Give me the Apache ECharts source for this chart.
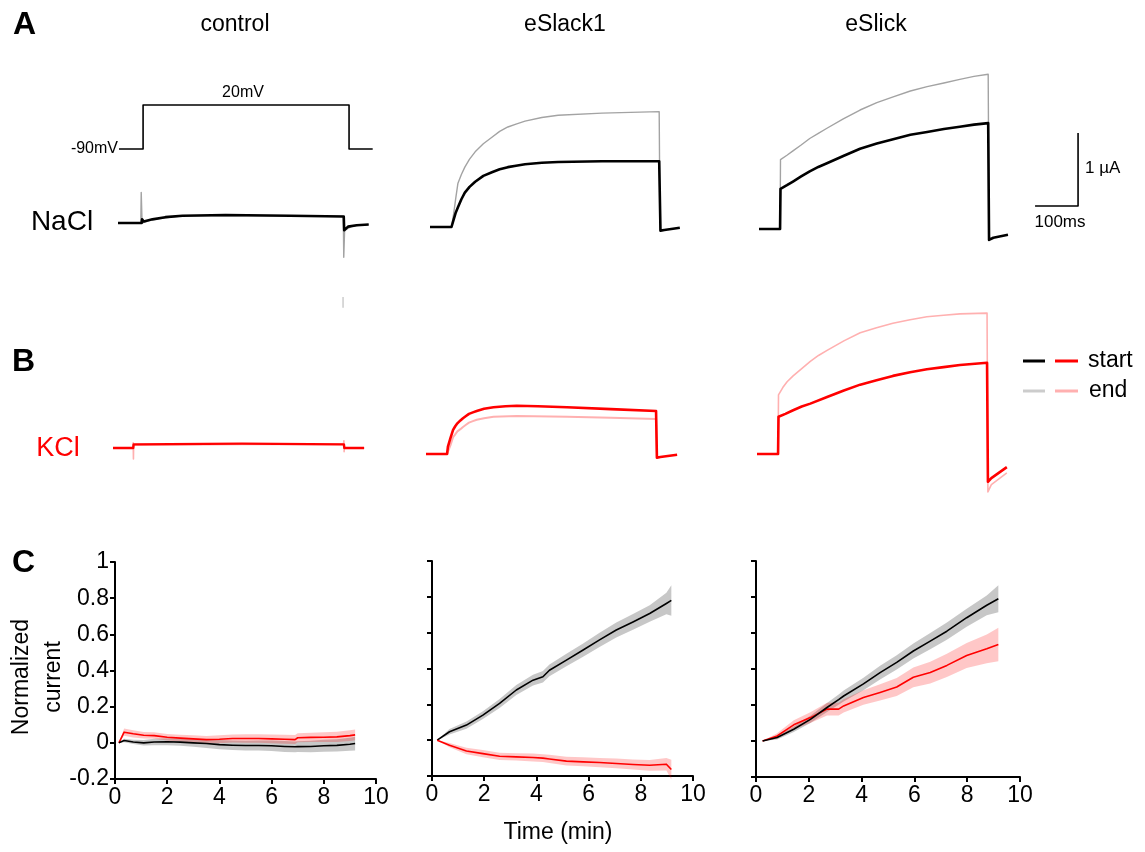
<!DOCTYPE html>
<html>
<head>
<meta charset="utf-8">
<script src="https://cdn.jsdelivr.net/npm/echarts@6/dist/echarts.min.js"></script>
<style>
html,body{margin:0;padding:0;background:#fff}
#main{width:1145px;height:852px}
</style>
</head>
<body>
<div id="main"></div>
<script>
// ---- A: voltage protocol (ms, mV)
var vProtocol = [[0,-90],[56,-90],[56,20],[535,20],[535,-90],[590,-90]];

// ---- A: NaCl currents (ms, uA), start = dark, end = light
var naCtrlStart = [[0,0],[55,0],[56,0.05],[60,0.02],[80,0.05],[110,0.08],[150,0.1],[250,0.11],[400,0.1],[525,0.09],[526,-0.1],[535,-0.05],[555,-0.03],[583,-0.02]];
var naCtrlEnd = [[0,0],[53,0],[54,0.42],[56,0],[80,0.05],[150,0.1],[400,0.1],[524,0.09],[525,-0.47],[527,-0.1],[545,-0.04],[583,-0.02]];
var naSlackStart = [[0,0],[50,0],[55,0.1],[60,0.2],[65,0.27],[73,0.38],[81,0.47],[92,0.55],[105,0.62],[124,0.7],[144,0.75],[162,0.79],[181,0.82],[200,0.84],[221,0.86],[260,0.88],[298,0.89],[400,0.9],[533,0.9],[536,-0.05],[545,-0.04],[581,-0.01]];
var naSlackEnd = [[50,0],[55,0.18],[60,0.4],[65,0.6],[73,0.72],[81,0.82],[92,0.93],[105,1.03],[124,1.14],[144,1.23],[162,1.31],[181,1.37],[200,1.41],[221,1.45],[260,1.5],[298,1.53],[400,1.56],[533,1.58],[535,-0.05]];
var naSlickStart = [[0,0],[49,0],[50,0.55],[65,0.6],[79,0.65],[98,0.72],[118,0.79],[138,0.85],[158,0.9],[196,1.0],[235,1.1],[274,1.17],[312,1.23],[352,1.29],[391,1.33],[430,1.37],[467,1.4],[500,1.43],[533,1.45],[535,-0.15],[545,-0.12],[579,-0.08]];
var naSlickEnd = [[49,0],[50,0.95],[65,1.01],[79,1.07],[98,1.15],[118,1.24],[138,1.31],[158,1.38],[196,1.51],[235,1.63],[274,1.73],[312,1.81],[352,1.89],[391,1.95],[430,2.0],[467,2.05],[500,2.09],[533,2.12],[535,-0.15]];
var scaleBar = [[642,0.315],[742,0.315],[742,1.315]];

// ---- B: KCl currents (ms, uA)
var kCtrlStart = [[0,0],[47,0],[48,0.05],[300,0.06],[537,0.05],[538,0],[584,0]];
var kCtrlEnd = [[0,0],[46,0],[47,0.07],[47.5,-0.15],[48,0.04],[300,0.05],[536,0.05],[537,0.1],[537.5,-0.05],[538,0],[584,0]];
var kCtrlMark = [[535,2.07],[535,1.92]];
var kSlackStart = [[0,0],[49,0],[51,0.1],[57,0.22],[63,0.33],[68,0.38],[73,0.42],[80,0.46],[86,0.49],[93,0.52],[100,0.55],[109,0.57],[118,0.59],[135,0.62],[157,0.64],[185,0.655],[211,0.66],[260,0.655],[328,0.64],[430,0.615],[535,0.59],[537,-0.05],[545,-0.04],[584,-0.01]];
var kSlackEnd = [[49,0],[57,0.12],[63,0.23],[68,0.27],[73,0.31],[80,0.34],[86,0.37],[93,0.4],[100,0.43],[109,0.45],[118,0.47],[135,0.49],[157,0.51],[211,0.52],[328,0.51],[430,0.495],[535,0.48],[537,-0.05]];
var kSlickStart = [[0,0],[49,0],[50,0.51],[66,0.55],[84,0.6],[104,0.65],[124,0.69],[163,0.78],[202,0.87],[240,0.95],[278,1.01],[316,1.07],[356,1.12],[395,1.16],[434,1.19],[472,1.22],[535,1.25],[537,-0.38],[545,-0.33],[581,-0.18]];
var kSlickEnd = [[49,0],[50,0.81],[60,0.91],[70,0.99],[84,1.07],[104,1.17],[124,1.27],[143,1.35],[163,1.42],[202,1.55],[240,1.66],[278,1.73],[316,1.79],[356,1.84],[395,1.88],[434,1.9],[472,1.92],[535,1.93],[537,-0.52],[545,-0.42],[581,-0.26]];

// ---- C: normalized current vs time (min), mean and sem
var ctrlT = [0.15,0.35,0.7,1.1,1.5,2,2.5,3,3.5,4,4.5,5,5.5,6,6.5,6.9,7,7.5,8,8.5,9,9.2];
var ctrlNa = [0,0.013,0.005,0,0.005,0.006,0.004,0,-0.004,-0.01,-0.013,-0.015,-0.015,-0.016,-0.02,-0.022,-0.021,-0.02,-0.016,-0.014,-0.008,-0.004];
var ctrlNaErr = [0,0.01,0.012,0.015,0.018,0.02,0.02,0.022,0.024,0.025,0.026,0.027,0.028,0.029,0.03,0.03,0.03,0.032,0.033,0.034,0.036,0.038];
var ctrlK = [0,0.059,0.05,0.042,0.04,0.031,0.026,0.022,0.018,0.02,0.024,0.024,0.024,0.022,0.02,0.018,0.028,0.03,0.031,0.033,0.04,0.044];
var ctrlKErr = [0,0.02,0.02,0.018,0.018,0.018,0.019,0.02,0.02,0.022,0.022,0.023,0.023,0.024,0.025,0.025,0.025,0.026,0.027,0.028,0.03,0.03];

var slackT = [0.2,0.67,1.32,1.95,2.59,3.23,3.87,4.25,4.5,5.15,5.79,6.42,7.06,7.7,8.34,8.98,9.17];
var slackNa = [0,0.047,0.084,0.14,0.205,0.28,0.335,0.354,0.39,0.447,0.503,0.56,0.615,0.66,0.707,0.763,0.78];
var slackNaErr = [0,0.015,0.02,0.022,0.025,0.028,0.03,0.032,0.033,0.035,0.037,0.04,0.042,0.044,0.046,0.06,0.085];
var slackK = [0,-0.028,-0.06,-0.075,-0.09,-0.093,-0.097,-0.1,-0.105,-0.117,-0.121,-0.125,-0.13,-0.136,-0.14,-0.134,-0.164];
var slackKErr = [0,0.012,0.018,0.02,0.02,0.02,0.022,0.022,0.023,0.024,0.025,0.026,0.027,0.028,0.03,0.035,0.055];

var slickT = [0.25,0.8,1.43,2.06,2.69,3.13,3.32,4.07,4.7,5.33,5.96,6.6,7.23,7.98,8.74,9.18];
var slickNa = [0,0.019,0.065,0.12,0.186,0.23,0.25,0.317,0.38,0.437,0.5,0.555,0.61,0.685,0.754,0.79];
var slickNaErr = [0,0.01,0.015,0.02,0.025,0.028,0.03,0.035,0.038,0.04,0.042,0.045,0.048,0.05,0.055,0.075];
var slickK = [0,0.028,0.09,0.13,0.177,0.177,0.195,0.242,0.27,0.3,0.354,0.38,0.42,0.475,0.512,0.536];
var slickKErr = [0,0.015,0.025,0.03,0.035,0.035,0.037,0.04,0.045,0.05,0.055,0.06,0.065,0.07,0.08,0.093];

var panelNames = ['control','eSlack1','eSlick'];

var FONT = 'Liberation Sans, Arial, sans-serif';
var BLACK = '#000', GRAY = '#a3a3a3', RED = '#ff0000', PINK = '#ffb0b0';

window.onload = function(){
	var chart = echarts.init(document.getElementById('main'));

	// trace grids (no axes): [left, top, width, height, xmax, ymin, ymax]
	var traceGrids = [
		[119, 101, 258, 52, 600, -100, 30],   // 0 voltage
		[118, 77, 258, 219, 600, -1, 2],      // 1 NaCl control
		[430, 81, 258, 219, 600, -1, 2],      // 2 NaCl eSlack1
		[759, 10, 344, 292, 800, -1, 3],      // 3 NaCl eSlick
		[113, 265.5, 258, 255.5, 600, -1, 2.5],// 4 KCl control
		[426, 308, 258, 219, 600, -1, 2],     // 5 KCl eSlack1
		[757, 308, 258, 219, 600, -1, 2]      // 6 KCl eSlick
	];
	var cGrids = [
		[115, 562, 261, 217],
		[432, 561, 261, 215],
		[756, 561, 264, 216]
	];

	var grid = [], xAxis = [], yAxis = [], series = [];
	traceGrids.forEach(function(g, i){
		grid.push({left:g[0], top:g[1], width:g[2], height:g[3]});
		xAxis.push({gridIndex:i, type:'value', min:0, max:g[4], show:false});
		yAxis.push({gridIndex:i, type:'value', min:g[5], max:g[6], show:false});
	});
	cGrids.forEach(function(g, k){
		var i = traceGrids.length + k;
		grid.push({left:g[0], top:g[1], width:g[2], height:g[3]});
		xAxis.push({
			gridIndex:i, type:'value', min:0, max:10, interval:2,
			axisLine:{show:true, onZero:false, lineStyle:{color:BLACK, width:2}},
			axisTick:{show:true, length:5, lineStyle:{color:BLACK, width:2}},
			axisLabel:{color:BLACK, fontSize:23, fontFamily:FONT, margin:7},
			splitLine:{show:false}
		});
		yAxis.push({
			gridIndex:i, type:'value', min:-0.2, max:1, interval:0.2,
			axisLine:{show:true, onZero:false, lineStyle:{color:BLACK, width:2}},
			axisTick:{show:true, length:5, lineStyle:{color:BLACK, width:2}},
			axisLabel:{show:k === 0, color:BLACK, fontSize:23, fontFamily:FONT, margin:6,
				formatter:function(v){ return String(Math.round(v*10)/10); }},
			splitLine:{show:false}
		});
	});

	function trace(gi, data, color, width){
		series.push({
			type:'line', xAxisIndex:gi, yAxisIndex:gi, data:data, showSymbol:false,
			lineStyle:{color:color, width:width, join:'round'}, silent:true, animation:false
		});
	}
	function band(gi, t, m, e, color){
		series.push({
			type:'custom', xAxisIndex:gi, yAxisIndex:gi, data:[[0,0]], silent:true, animation:false,
			renderItem:function(params, api){
				var pts = [];
				for (var i = 0; i < t.length; i++) pts.push(api.coord([t[i], m[i] + e[i]]));
				for (var j = t.length - 1; j >= 0; j--) pts.push(api.coord([t[j], m[j] - e[j]]));
				return {type:'polygon', shape:{points:pts}, style:{fill:color}};
			}
		});
	}
	function mean(gi, t, m, color){
		trace(gi, t.map(function(v, i){ return [v, m[i]]; }), color, 1.6);
	}

	// A
	trace(0, vProtocol, BLACK, 1.6);
	trace(1, naCtrlEnd, GRAY, 1.4);
	trace(1, naCtrlStart, BLACK, 2.6);
	trace(2, naSlackEnd, GRAY, 1.4);
	trace(2, naSlackStart, BLACK, 2.6);
	trace(3, naSlickEnd, GRAY, 1.4);
	trace(3, naSlickStart, BLACK, 2.6);
	trace(3, scaleBar, BLACK, 1.6);
	// B
	trace(4, kCtrlEnd, PINK, 1.6);
	trace(4, kCtrlStart, RED, 2.4);
	trace(4, kCtrlMark, '#c8c8c8', 1.4);
	trace(5, kSlackEnd, PINK, 2);
	trace(5, kSlackStart, RED, 2.6);
	trace(6, kSlickEnd, PINK, 1.6);
	trace(6, kSlickStart, RED, 2.6);
	// C
	var GB = 'rgba(0,0,0,0.22)', RB = 'rgba(255,0,0,0.22)';
	band(7, ctrlT, ctrlNa, ctrlNaErr, GB);
	band(7, ctrlT, ctrlK, ctrlKErr, RB);
	mean(7, ctrlT, ctrlK, RED);
	mean(7, ctrlT, ctrlNa, BLACK);
	band(8, slackT, slackNa, slackNaErr, GB);
	band(8, slackT, slackK, slackKErr, RB);
	mean(8, slackT, slackNa, BLACK);
	mean(8, slackT, slackK, RED);
	band(9, slickT, slickNa, slickNaErr, GB);
	band(9, slickT, slickK, slickKErr, RB);
	mean(9, slickT, slickK, RED);
	mean(9, slickT, slickNa, BLACK);

	function txt(x, y, s, size, opt){
		opt = opt || {};
		return {
			type:'text', x:x, y:y, rotation:opt.rotation || 0, silent:true,
			style:{text:s, fill:opt.color || BLACK, font:(opt.bold ? 'bold ' : '') + size + 'px ' + FONT,
				textAlign:opt.align || 'center', textVerticalAlign:'middle', lineHeight:opt.lineHeight}
		};
	}
	function seg(x1, y1, x2, y2, color){
		return {type:'line', silent:true, shape:{x1:x1, y1:y1, x2:x2, y2:y2}, style:{stroke:color, lineWidth:3}};
	}
	var centers = [235, 565, 876];
	var graphic = [
		txt(13, 25, 'A', 32, {bold:true, align:'left'}),
		txt(12, 362, 'B', 32, {bold:true, align:'left'}),
		txt(12, 563, 'C', 32, {bold:true, align:'left'}),
		txt(62, 222, 'NaCl', 28),
		txt(58, 449, 'KCl', 27, {color:RED}),
		txt(118, 149, '-90mV', 16, {align:'right'}),
		txt(243, 93, '20mV', 16),
		txt(1085, 168, '1 \u00b5A', 17, {align:'left'}),
		txt(1060, 222, '100ms', 17),
		seg(1023, 361, 1045, 361, BLACK),
		seg(1055, 361, 1078, 361, RED),
		seg(1023, 391, 1045, 391, '#cccccc'),
		seg(1055, 391, 1078, 391, PINK),
		txt(1088, 361, 'start', 23, {align:'left'}),
		txt(1089, 391, 'end', 23, {align:'left'}),
		txt(558, 833, 'Time (min)', 23),
		txt(38, 677, 'Normalized\ncurrent', 23, {rotation:Math.PI/2, lineHeight:32})
	];
	panelNames.forEach(function(n, i){ graphic.push(txt(centers[i], 25, n, 23)); });

	chart.setOption({
		animation:false,
		backgroundColor:'#fff',
		grid:grid, xAxis:xAxis, yAxis:yAxis, series:series, graphic:graphic
	});
	window.addEventListener('resize', function(){ chart.resize(); });
};
</script>
</body>
</html>
